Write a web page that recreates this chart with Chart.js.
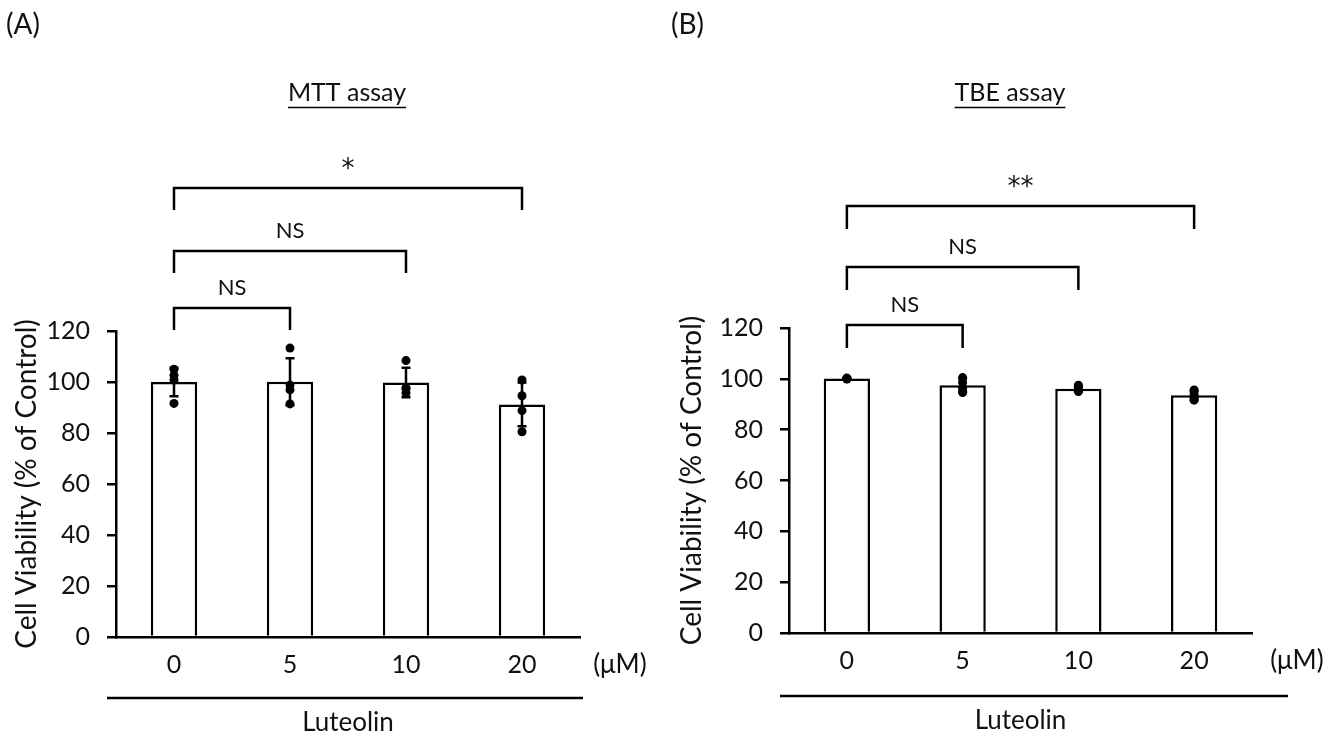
<!DOCTYPE html>
<html>
<head>
<meta charset="utf-8">
<script src="https://cdn.jsdelivr.net/npm/chart.js@4.4.0/dist/chart.umd.min.js"></script>
<style>
  html, body { margin: 0; padding: 0; background: #fff; }
  #wrap { position: relative; width: 1342px; height: 739px; }
  .panel { position: absolute; top: 0; width: 671px; height: 739px; }
</style>
</head>
<body>
<div id="wrap">
  <div class="panel" style="left:0"><canvas id="chartA" width="671" height="739"></canvas></div>
  <div class="panel" style="left:671px"><canvas id="chartB" width="671" height="739"></canvas></div>
</div>
<script>
// luteolin doses (uM) and y axis ticks
const doses = ['0', '5', '10', '20'];
const yTicks = [0, 20, 40, 60, 80, 100, 120];

// (A) MTT assay
const mttMean = [100.0, 100.1, 99.8, 91.2];
const mttSD = [5.6, 9.2, 5.8, 8.6];
const mttPoints = [
  [105.0, 102.6, 100.8, 91.6],
  [113.3, 98.8, 96.9, 91.4],
  [108.4, 97.6, 95.7, 97.5],
  [100.8, 94.6, 88.8, 80.5]
];
const mttMarks = ['NS', 'NS', '*'];

// (B) TBE assay
const tbeMean = [100.1, 97.5, 96.1, 93.5];
const tbeSD = [0.3, 2.6, 1.1, 1.7];
const tbePoints = [
  [100.3, 100.1, 99.9, 100.0],
  [100.5, 98.6, 96.2, 94.6],
  [97.5, 96.5, 95.5, 95.0],
  [95.6, 94.0, 92.8, 91.6]
];
const tbeMarks = ['NS', 'NS', '**'];

// pairs compared against control
const comparisons = [[0, 1], [0, 2], [0, 3]];

const FONT = 'Lato, "Open Sans", sans-serif';
const INK = '#111';
Chart.defaults.font.family = FONT;
Chart.defaults.color = INK;

function makeDeco(p) {
  return {
    id: 'deco' + p.letter,
    afterDatasetDraw(chart, args) {
      if (args.index !== 0) return;
      const { ctx, scales: { x, y } } = chart;
      ctx.save();
      ctx.strokeStyle = '#000';
      ctx.lineWidth = 2.5;
      p.mean.forEach((m, i) => {
        const cx = x.getPixelForValue(i);
        const t = y.getPixelForValue(m + p.sd[i]);
        const b = y.getPixelForValue(m - p.sd[i]);
        ctx.beginPath();
        ctx.moveTo(cx, t); ctx.lineTo(cx, b);
        ctx.moveTo(cx - 4.5, t); ctx.lineTo(cx + 4.5, t);
        ctx.moveTo(cx - 4.5, b); ctx.lineTo(cx + 4.5, b);
        ctx.stroke();
      });
      ctx.restore();
    },
    afterDraw(chart) {
      const { ctx, chartArea: a, scales: { x } } = chart;
      ctx.save();
      ctx.fillStyle = INK;
      ctx.strokeStyle = '#000';

      // panel letter
      ctx.font = '28px ' + FONT;
      ctx.textAlign = 'left';
      ctx.textBaseline = 'middle';
      ctx.fillText('(' + p.letter + ')', p.letterX, 25);

      // underlined title
      ctx.font = '25px ' + FONT;
      ctx.textAlign = 'center';
      ctx.fillText(p.title, p.titleX, 93);
      const tw = ctx.measureText(p.title).width;
      ctx.lineWidth = 1.5;
      ctx.beginPath();
      ctx.moveTo(p.titleX - tw / 2, 107.5);
      ctx.lineTo(p.titleX + tw / 2, 107.5);
      ctx.stroke();

      // significance brackets
      ctx.lineWidth = 2.5;
      comparisons.forEach((c, k) => {
        const x0 = x.getPixelForValue(c[0]);
        const x1 = x.getPixelForValue(c[1]);
        const yy = p.bracketY[k];
        ctx.beginPath();
        ctx.moveTo(x0, yy + p.leg); ctx.lineTo(x0, yy);
        ctx.lineTo(x1, yy); ctx.lineTo(x1, yy + p.leg);
        ctx.stroke();
        const star = p.marks[k].indexOf('*') >= 0;
        ctx.font = star ? '26px "DejaVu Sans", sans-serif' : '22px ' + FONT;
        ctx.textBaseline = 'middle';
        ctx.fillText(p.marks[k], (x0 + x1) / 2, yy - (star ? 18 : 20));
      });

      // unit label
      ctx.font = '26px ' + FONT;
      ctx.textAlign = 'center';
      ctx.fillText('(\u03bcM)', a.right + p.unitDx, a.bottom + 28);

      // treatment line and label
      ctx.lineWidth = 2.5;
      ctx.beginPath();
      ctx.moveTo(a.left - 9, a.bottom + p.lineDy);
      ctx.lineTo(a.right + p.lineEnd, a.bottom + p.lineDy);
      ctx.stroke();
      ctx.font = '26px ' + FONT;
      ctx.fillText('Luteolin', (a.left + a.right) / 2, a.bottom + p.lineDy + 25);
      ctx.restore();
    }
  };
}

function makePanel(id, p) {
  const dots = [];
  p.points.forEach((vals, i) => vals.forEach(v => dots.push({ x: doses[i], y: v })));
  return new Chart(document.getElementById(id), {
    data: {
      labels: doses,
      datasets: [
        {
          type: 'bar',
          data: p.mean,
          backgroundColor: '#fff',
          borderColor: '#000',
          borderWidth: 2.5,
          barPercentage: 0.4,
          categoryPercentage: 1,
          order: 2
        },
        {
          type: 'scatter',
          data: dots,
          pointRadius: 4.5,
          pointBackgroundColor: '#000',
          pointBorderWidth: 0,
          order: 1
        }
      ]
    },
    options: {
      responsive: false,
      animation: false,
      devicePixelRatio: 1,
      layout: { padding: p.pad },
      plugins: { legend: { display: false }, tooltip: { enabled: false } },
      scales: {
        x: {
          type: 'category',
          offset: true,
          grid: { display: false, drawTicks: false },
          border: { color: '#000', width: 2.5 },
          ticks: { font: { size: 25 }, color: INK, padding: 13 },
          afterFit(s) { s.height = 40; }
        },
        y: {
          min: 0,
          max: 120,
          afterBuildTicks(s) { s.ticks = yTicks.map(v => ({ value: v })); },
          grid: { drawOnChartArea: false, drawTicks: true, tickLength: 9, color: '#000', lineWidth: 2.5 },
          border: { color: '#000', width: 2.5 },
          ticks: { font: { size: 25 }, color: INK, padding: 17 },
          title: {
            display: true,
            text: 'Cell Viability (% of Control)',
            font: { size: 28 },
            color: INK,
            padding: { top: p.titlePad, bottom: 0 }
          },
          afterFit(s) { s.width = p.yWidth; }
        }
      }
    },
    plugins: [makeDeco(p)]
  });
}

makePanel('chartA', {
  letter: 'A', letterX: 6, title: 'MTT assay', titleX: 347,
  mean: mttMean, sd: mttSD, points: mttPoints, marks: mttMarks,
  pad: { left: 0, right: 91, top: 331, bottom: 62 }, yWidth: 116, titlePad: 10,
  bracketY: [308, 251, 188], leg: 22, unitDx: 40, lineDy: 61, lineEnd: 3
});

makePanel('chartB', {
  letter: 'B', letterX: 0, title: 'TBE assay', titleX: 339,
  mean: tbeMean, sd: tbeSD, points: tbePoints, marks: tbeMarks,
  pad: { left: 0, right: 90, top: 328, bottom: 66 }, yWidth: 118, titlePad: 4,
  bracketY: [325, 267, 206], leg: 23, unitDx: 45, lineDy: 63, lineEnd: 36
});
</script>
</body>
</html>
